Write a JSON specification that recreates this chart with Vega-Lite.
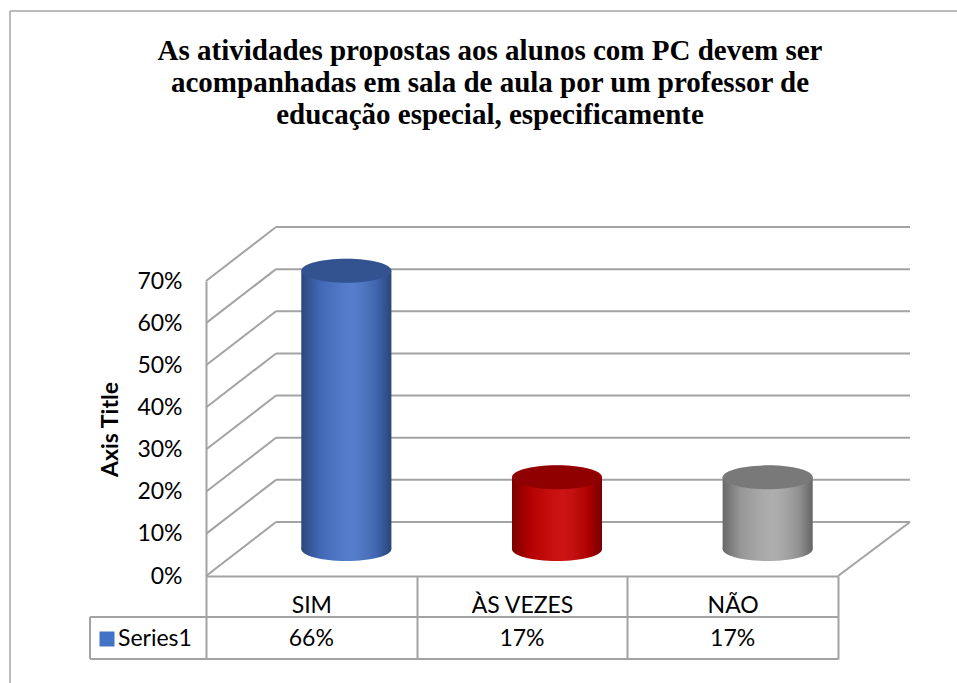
{
  "$schema": "https://vega.github.io/schema/vega-lite/v6.json",
  "width": 632,
  "height": 295,
  "autosize": {"type": "none"},
  "padding": {"left": 206, "top": 281, "right": 119, "bottom": 107},
  "background": "white",
  "config": {"view": {"stroke": null}, "font": "Lato"},
  "title": {
    "text": ["As atividades propostas aos alunos com PC devem ser", "acompanhadas em sala de aula por um professor de", "educação especial, especificamente"],
    "font": "Liberation Serif",
    "fontSize": 29,
    "fontWeight": "bold",
    "color": "#000000",
    "lineHeight": 32,
    "anchor": "middle",
    "dx": -32,
    "offset": -149,
    "baseline": "bottom"
  },
  "datasets": {
    "bars": [
      {"cat": "SIM", "pct": 0.66},
      {"cat": "ÀS VEZES", "pct": 0.17},
      {"cat": "NÃO", "pct": 0.17}
    ],
    "grid": [
      {"pct": 0}, {"pct": 0.1}, {"pct": 0.2}, {"pct": 0.3},
      {"pct": 0.4}, {"pct": 0.5}, {"pct": 0.6}, {"pct": 0.7}
    ],
    "one": [{"pct": 0}]
  },
  "layer": [
    {
      "data": {"name": "one"},
      "mark": {"type": "rule", "color": "#A6A6A6", "strokeWidth": 1.5, "xOffset": -196, "yOffset": -270, "y2Offset": 120},
      "encoding": {
        "x": {"value": 0},
        "y": {"value": 0},
        "y2": {"value": "height"}
      }
    },
    {
      "data": {"name": "one"},
      "mark": {"type": "rule", "color": "#A6A6A6", "strokeWidth": 1.5, "xOffset": -196, "x2Offset": 130, "yOffset": -270},
      "encoding": {
        "x": {"value": 0},
        "x2": {"value": "width"},
        "y": {"value": 0}
      }
    },
    {
      "data": {"name": "grid"},
      "mark": {"type": "rule", "color": "#A3A3A3", "strokeWidth": 2, "xOffset": 70, "x2Offset": 72, "yOffset": -54},
      "encoding": {
        "x": {"value": 0},
        "x2": {"value": "width"},
        "y": {
          "field": "pct", "type": "quantitative",
          "scale": {"domain": [0, 0.7], "nice": false, "zero": true},
          "axis": {
            "values": [0, 0.1, 0.2, 0.3, 0.4, 0.5, 0.6, 0.7],
            "format": ".0%",
            "grid": false,
            "ticks": false,
            "domain": true,
            "domainColor": "#A3A3A3",
            "domainWidth": 2,
            "labelFont": "Lato",
            "labelFontSize": 23,
            "labelColor": "#000000",
            "labelPadding": 24,
            "labelBaseline": "middle",
            "title": "Axis Title",
            "titleFont": "Lato",
            "titleFontSize": 23,
            "titleFontWeight": "bold",
            "titleColor": "#000000",
            "titleAngle": 270,
            "titleAlign": "center",
            "titleBaseline": "middle",
            "titleX": -96,
            "titleY": 148
          }
        }
      }
    },
    {
      "data": {"name": "grid"},
      "mark": {"type": "rule", "color": "#A3A3A3", "strokeWidth": 2, "x2Offset": 70, "y2Offset": -54},
      "encoding": {
        "x": {"value": 0},
        "x2": {"value": 0},
        "y": {"field": "pct", "type": "quantitative"},
        "y2": {"field": "pct"}
      }
    },
    {
      "data": {"name": "one"},
      "mark": {"type": "rule", "color": "#A3A3A3", "strokeWidth": 2, "x2Offset": 72, "y2Offset": -54},
      "encoding": {
        "x": {"value": "width"},
        "x2": {"value": "width"},
        "y": {"field": "pct", "type": "quantitative"},
        "y2": {"field": "pct"}
      }
    },
    {
      "data": {"name": "bars"},
      "mark": {"type": "point", "filled": true, "opacity": 1, "shape": "M-1,0A1,0.267,0,1,1,1,0A1,0.267,0,1,1,-1,0Z", "size": 8100, "xOffset": 35, "yOffset": -27},
      "encoding": {
        "x": {
          "field": "cat", "type": "nominal", "sort": null,
          "scale": {"domain": ["SIM", "ÀS VEZES", "NÃO"], "paddingInner": 0, "paddingOuter": 0},
          "axis": {
            "orient": "bottom",
            "title": null,
            "labelAngle": 0,
            "labelFont": "Lato",
            "labelFontSize": 23,
            "labelColor": "#000000",
            "labelBaseline": "alphabetic",
            "labelPadding": -47,
            "domainColor": "#A3A3A3",
            "domainWidth": 2,
            "ticks": true,
            "tickColor": "#A3A3A3",
            "tickWidth": 2,
            "tickSize": 83,
            "tickBand": "extent",
            "grid": false
          }
        },
        "y": {"datum": 0, "type": "quantitative"},
        "color": {
          "field": "cat", "type": "nominal",
          "scale": {"domain": ["SIM", "ÀS VEZES", "NÃO"], "range": ["#4773C8", "#C80000", "#A8A8A8"]},
          "legend": null
        }
      }
    },
    {
      "data": {"name": "bars"},
      "mark": {
        "type": "point", "filled": true, "opacity": 1, "shape": "M-1,0A1,0.267,0,1,1,1,0A1,0.267,0,1,1,-1,0Z", "size": 8100, "xOffset": 35, "yOffset": -27,
        "fill": {"gradient": "linear", "x1": 0, "y1": 0, "x2": 1, "y2": 0, "stops": [
          {"offset": 0, "color": "rgba(0,0,0,0.38)"},
          {"offset": 0.2, "color": "rgba(0,0,0,0.1)"},
          {"offset": 0.55, "color": "rgba(255,255,255,0.08)"},
          {"offset": 0.85, "color": "rgba(0,0,0,0.14)"},
          {"offset": 1, "color": "rgba(0,0,0,0.4)"}
        ]}
      },
      "encoding": {
        "x": {"field": "cat", "type": "nominal"},
        "y": {"datum": 0, "type": "quantitative"}
      }
    },
    {
      "data": {"name": "bars"},
      "mark": {"type": "bar", "width": 90, "xOffset": 35, "x2Offset": 35, "yOffset": -27, "y2Offset": -27},
      "encoding": {
        "x": {"field": "cat", "type": "nominal"},
        "y": {"field": "pct", "type": "quantitative"},
        "color": {"field": "cat", "type": "nominal", "legend": null}
      }
    },
    {
      "data": {"name": "bars"},
      "mark": {
        "type": "bar", "width": 90, "xOffset": 35, "x2Offset": 35, "yOffset": -27, "y2Offset": -27,
        "fill": {"gradient": "linear", "x1": 0, "y1": 0, "x2": 1, "y2": 0, "stops": [
          {"offset": 0, "color": "rgba(0,0,0,0.38)"},
          {"offset": 0.2, "color": "rgba(0,0,0,0.1)"},
          {"offset": 0.55, "color": "rgba(255,255,255,0.08)"},
          {"offset": 0.85, "color": "rgba(0,0,0,0.14)"},
          {"offset": 1, "color": "rgba(0,0,0,0.4)"}
        ]}
      },
      "encoding": {
        "x": {"field": "cat", "type": "nominal"},
        "y": {"field": "pct", "type": "quantitative"}
      }
    },
    {
      "data": {"name": "bars"},
      "mark": {"type": "point", "filled": true, "opacity": 1, "shape": "M-1,0A1,0.267,0,1,1,1,0A1,0.267,0,1,1,-1,0Z", "size": 8100, "xOffset": 35, "yOffset": -27},
      "encoding": {
        "x": {"field": "cat", "type": "nominal"},
        "y": {"field": "pct", "type": "quantitative"},
        "color": {"field": "cat", "type": "nominal", "legend": null}
      }
    },
    {
      "data": {"name": "bars"},
      "mark": {"type": "point", "filled": true, "color": "#000000", "opacity": 0.28, "shape": "M-1,0A1,0.267,0,1,1,1,0A1,0.267,0,1,1,-1,0Z", "size": 8100, "xOffset": 35, "yOffset": -27},
      "encoding": {
        "x": {"field": "cat", "type": "nominal"},
        "y": {"field": "pct", "type": "quantitative"}
      }
    },
    {
      "data": {"name": "bars"},
      "mark": {"type": "text", "font": "Lato", "fontSize": 23, "color": "#000000", "baseline": "alphabetic", "align": "center", "yOffset": 70},
      "encoding": {
        "x": {"field": "cat", "type": "nominal"},
        "y": {"datum": 0, "type": "quantitative"},
        "text": {"field": "pct", "type": "quantitative", "format": ".0%"}
      }
    },
    {
      "data": {"name": "one"},
      "mark": {"type": "rule", "color": "#A3A3A3", "strokeWidth": 2, "xOffset": -116, "yOffset": 41},
      "encoding": {
        "x": {"value": 0},
        "x2": {"value": "width"},
        "y": {"field": "pct", "type": "quantitative"}
      }
    },
    {
      "data": {"name": "one"},
      "mark": {"type": "rule", "color": "#A3A3A3", "strokeWidth": 2, "xOffset": -116, "yOffset": 83},
      "encoding": {
        "x": {"value": 0},
        "x2": {"value": "width"},
        "y": {"field": "pct", "type": "quantitative"}
      }
    },
    {
      "data": {"name": "one"},
      "mark": {"type": "rule", "color": "#A3A3A3", "strokeWidth": 2, "xOffset": -116, "yOffset": 41, "y2Offset": 83},
      "encoding": {
        "x": {"value": 0},
        "y": {"field": "pct", "type": "quantitative"},
        "y2": {"field": "pct"}
      }
    },
    {
      "data": {"name": "one"},
      "mark": {"type": "point", "shape": "square", "filled": true, "opacity": 1, "color": "#4472C4", "size": 225, "xOffset": -99, "yOffset": 63},
      "encoding": {
        "x": {"value": 0},
        "y": {"field": "pct", "type": "quantitative"}
      }
    },
    {
      "data": {"name": "one"},
      "mark": {"type": "text", "text": "Series1", "font": "Lato", "fontSize": 23, "color": "#000000", "align": "left", "baseline": "alphabetic", "xOffset": -88, "yOffset": 70},
      "encoding": {
        "x": {"value": 0},
        "y": {"field": "pct", "type": "quantitative"}
      }
    }
  ]
}
